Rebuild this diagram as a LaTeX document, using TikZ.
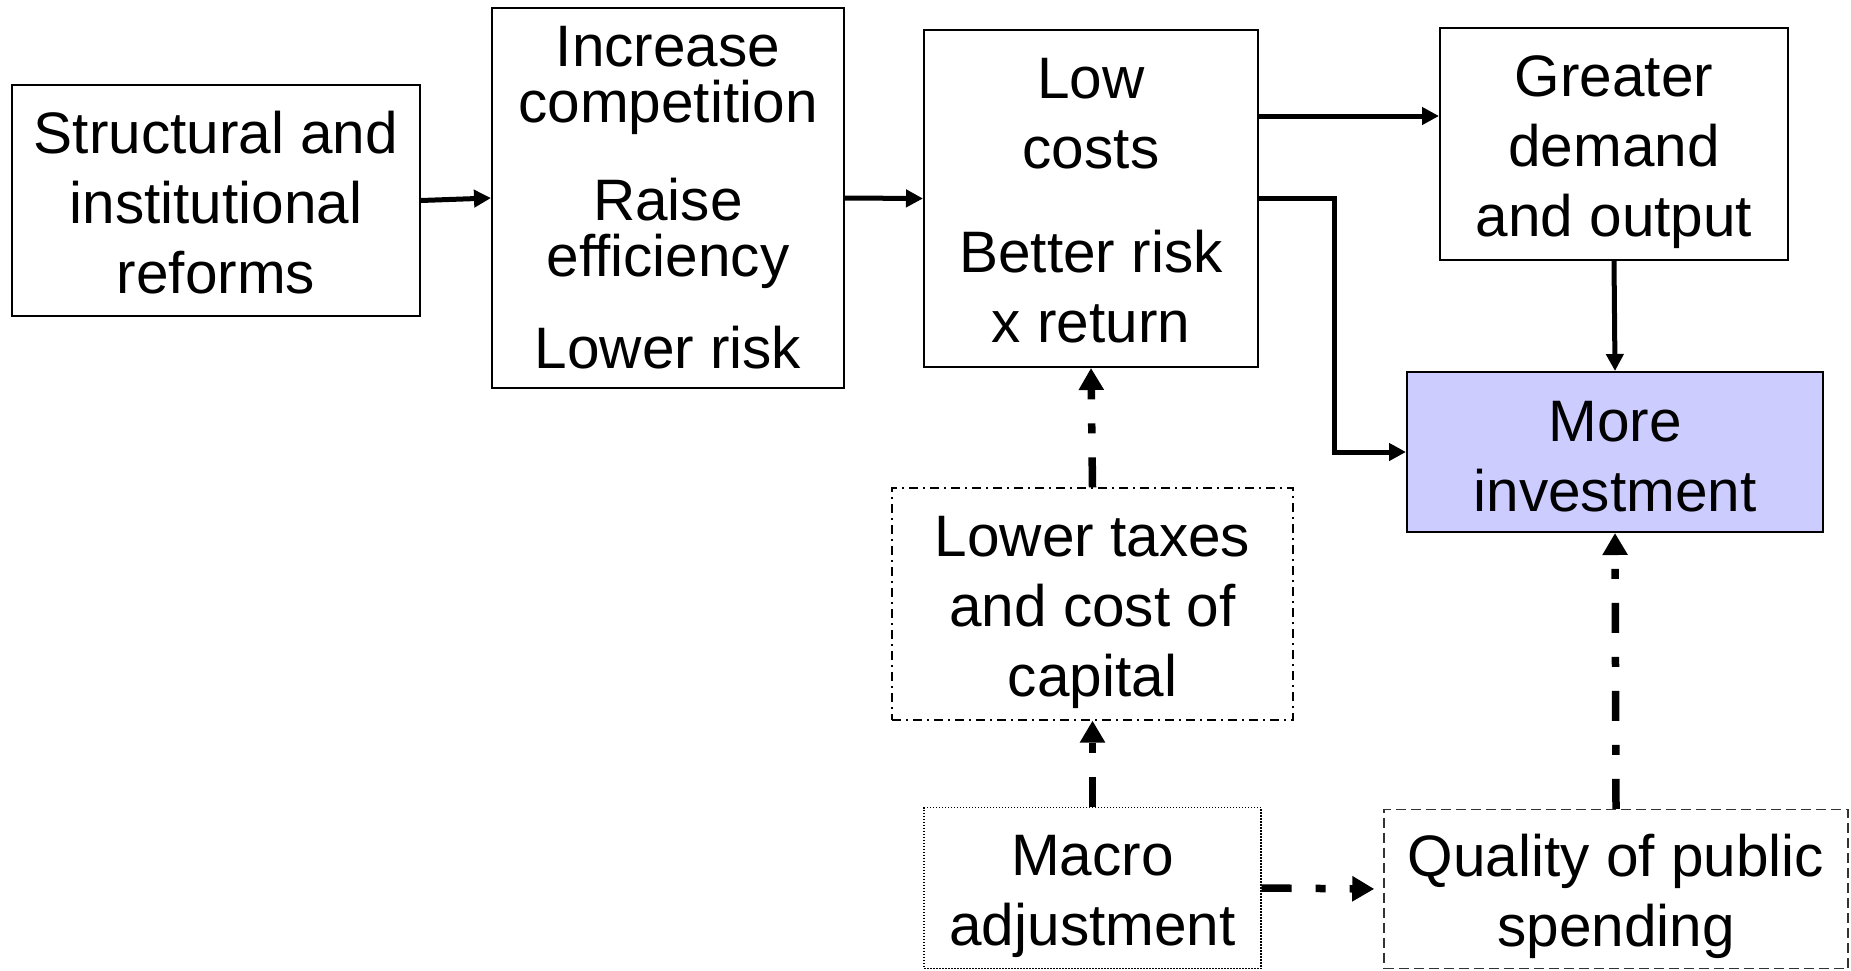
\documentclass[tikz,border=0pt]{standalone}
\usepackage{fontspec}
\setmainfont{Liberation Sans}
\usetikzlibrary{arrows.meta}
\definecolor{lav}{RGB}{204,204,255}
\tikzset{
  box/.style={draw=black, line width=2pt, inner sep=0pt},
  txt/.style={inner sep=0pt, align=center, font=\fontsize{58.5}{70}\selectfont},
  arr/.style={line width=5pt, -{Triangle[length=17pt,width=17pt]}},
  darr/.style={line width=7.5pt, dash pattern=on 30pt off 24pt on 10pt off 24pt, -{Triangle[length=22pt,width=24pt]}},
}
\begin{document}
\begin{tikzpicture}[x=1pt,y=-1pt]
\useasboundingbox (0,0) rectangle (1851,970);
\node[box, minimum width=408pt, minimum height=231pt] (sr) at (216,200.5) {};
\node[box, minimum width=352pt, minimum height=380pt] (inc) at (668,198) {};
\node[box, minimum width=334pt, minimum height=337pt] (low) at (1091,198.5) {};
\node[box, minimum width=348pt, minimum height=232pt] (gre) at (1614,144) {};
\node[box, fill=lav, minimum width=416pt, minimum height=160pt] (more) at (1615,452) {};
\node[box, line width=1.2pt, dash pattern=on 9pt off 5pt on 2pt off 5pt, minimum width=401pt, minimum height=232pt] (lt) at (1092.5,604) {};
\node[box, line width=1.2pt, dash pattern=on 1.5pt off 1.5pt, minimum width=337pt, minimum height=161pt] (mac) at (1092.5,888) {};
\node[box, draw=black!80, line width=1.5pt, dash pattern=on 10pt off 5pt, minimum width=464pt, minimum height=159pt] (qual) at (1616,889) {};

\node[txt] (srt) at ([yshift=-2pt]sr.center) {Structural and\\institutional\\reforms};
\node[txt] (inct) at (inc.center) {Increase\\[-14pt]competition\\[28pt]Raise\\[-14pt]efficiency\\[22pt]Lower risk};
\node[txt] (lowt) at ([yshift=-2pt]low.center) {Low\\costs\\[34pt]Better risk\\x return};
\node[txt] (gret) at ([yshift=-8pt]gre.center) {Greater\\demand\\and output};
\node[txt] (moret) at ([yshift=-5pt]more.center) {More\\investment};
\node[txt] (ltt) at ([yshift=-8pt]lt.center) {Lower taxes\\and cost of\\capital};
\node[txt] (mact) at ([yshift=-8pt]mac.center) {Macro\\adjustment};
\node[txt] (qualt) at ([yshift=-7pt]qual.center) {Quality of public\\spending};

\draw[arr] (sr.east) -- (inc.west);
\draw[arr] (inc.east) -- (low.west);
\draw[arr] ([yshift=-87pt]low.north east) -- ([yshift=-87pt]low.north east -| gre.west);
\draw[arr] (low.east) -- ++(75,0) |- (more.west);
\draw[arr] (gre.south) -- (more.north);
\draw[darr] (lt.north) -- (low.south);
\draw[darr] (mac.north) -- (lt.south);
\draw[darr, shorten >=9pt] (mac.east) -- (qual.west);
\draw[darr] (qual.north) -- (more.south);
\end{tikzpicture}
\end{document}
